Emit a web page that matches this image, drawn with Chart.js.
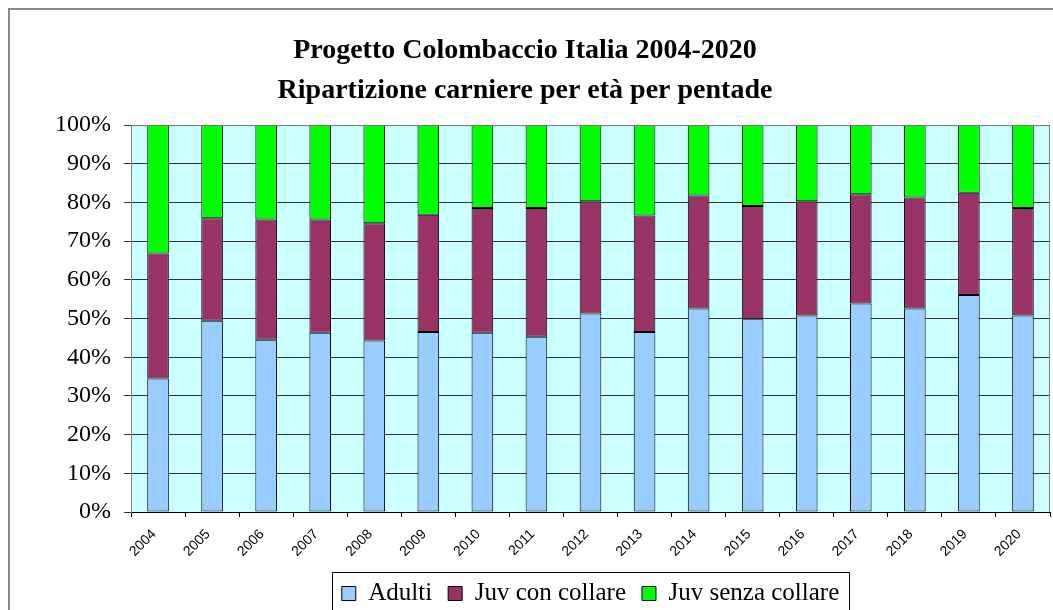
<!DOCTYPE html>
<html><head><meta charset="utf-8">
<script src="https://cdn.jsdelivr.net/npm/chart.js@4.4.1/dist/chart.umd.min.js"></script>
<style>
html,body{margin:0;padding:0;background:#fff;overflow:hidden;}
#wrap{position:relative;width:1053px;height:610px;overflow:hidden;}
#frame{position:absolute;left:8px;top:8px;width:1100px;height:700px;border-left:2px solid #8a8a8a;border-top:2px solid #8a8a8a;pointer-events:none;}
canvas{position:absolute;left:0;top:0;}
</style></head><body>
<div id="wrap"><canvas id="c" width="1053" height="610"></canvas><div id="frame"></div></div>
<script>
const years = ['2004','2005','2006','2007','2008','2009','2010','2011','2012','2013','2014','2015','2016','2017','2018','2019','2020'];
const adulti    = [34.5, 49.4, 44.5, 46.3, 44.3, 46.5, 46.3, 45.3, 51.3, 46.5, 52.6, 49.8, 50.8, 53.9, 52.6, 56.1, 50.8];
const juvCon    = [32.3, 26.5, 31.1, 29.3, 30.3, 30.3, 32.3, 33.3, 29.0, 30.1, 29.2, 29.3, 29.5, 28.2, 28.7, 26.4, 27.8];
const juvSenza  = [33.2, 24.1, 24.4, 24.4, 25.4, 23.2, 21.4, 21.4, 19.7, 23.4, 18.2, 20.9, 19.7, 17.9, 18.7, 17.5, 21.4];
const titleLines = ['Progetto Colombaccio Italia 2004-2020', 'Ripartizione carniere per età per pentade'];
const seriesNames = ['Adulti', 'Juv con collare', 'Juv senza collare'];
const seriesColors = ['#99CCFF', '#993366', '#00FF00'];

const helper = {
  id: 'helper',
  beforeDraw(chart) {
    const {ctx, chartArea: a} = chart;
    ctx.save();
    ctx.fillStyle = '#CCFFFF';
    ctx.fillRect(a.left, a.top, a.right - a.left, a.bottom - a.top);
    ctx.restore();
  },
  afterLayout(chart) {
    const lg = chart.legend;
    if (lg) { lg.left = chart.chartArea.left; lg.right = chart.chartArea.right; }
  },
  afterDraw(chart) {
    const {ctx, chartArea: a} = chart;
    ctx.save();
    ctx.strokeStyle = '#808080';
    ctx.lineWidth = 1;
    ctx.beginPath();
    ctx.moveTo(a.left + 0.5, a.bottom);
    ctx.lineTo(a.left + 0.5, a.top + 0.5);
    ctx.lineTo(a.right - 0.5, a.top + 0.5);
    ctx.lineTo(a.right - 0.5, a.bottom);
    ctx.stroke();
    const lg = chart.legend;
    if (lg && lg.legendHitBoxes && lg.legendHitBoxes.length) {
      const hb = lg.legendHitBoxes;
      const first = hb[0], last = hb[hb.length - 1];
      const x0 = Math.round(first.left - 10) + 0.5;
      const x1 = Math.round(last.left + last.width + 10) + 0.5;
      const y0 = Math.round(first.top - 9) + 0.5;
      ctx.strokeStyle = '#000';
      ctx.beginPath();
      ctx.rect(x0, y0, x1 - x0, 60);
      ctx.stroke();
    }
    ctx.restore();
  }
};

new Chart(document.getElementById('c'), {
  type: 'bar',
  data: {
    labels: years,
    datasets: [adulti, juvCon, juvSenza].map((d, i) => ({
      label: seriesNames[i],
      data: d,
      backgroundColor: seriesColors[i],
      borderColor: '#000',
      borderWidth: 1,
      borderSkipped: false,
      barPercentage: 0.4,
      categoryPercentage: 1
    }))
  },
  options: {
    responsive: false,
    devicePixelRatio: 1,
    animation: false,
    layout: { padding: { left: 0, right: 3, top: 0, bottom: -6 } },
    plugins: {
      tooltip: { enabled: false },
      title: {
        display: true,
        text: titleLines,
        color: '#000',
        font: { family: 'Liberation Serif', size: 28, weight: 'bold', lineHeight: 1.43 },
        padding: { top: 31, bottom: 14 }
      },
      legend: {
        position: 'bottom',
        labels: {
          boxWidth: 14, boxHeight: 14, padding: 16, color: '#000',
          font: { family: 'Liberation Serif', size: 25 }
        }
      }
    },
    scales: {
      x: {
        stacked: true,
        ticks: {
          color: '#000', font: { family: 'Liberation Sans', size: 14 },
          minRotation: 45, maxRotation: 45, padding: 9, labelOffset: -4, autoSkip: false
        },
        grid: { display: true, drawOnChartArea: false, offset: true, tickLength: 5, color: '#000' },
        border: { color: '#000' },
        afterFit(s) { s.height = 53; }
      },
      y: {
        stacked: true, min: 0, max: 100,
        ticks: {
          stepSize: 10, color: '#000', padding: 13,
          font: { family: 'Liberation Serif', size: 24 },
          callback: v => v + '%'
        },
        grid: { color: '#333', tickColor: '#333', tickLength: 7 },
        border: { color: '#808080' },
        afterFit(s) { s.width = 131; }
      }
    }
  },
  plugins: [helper]
});
</script>
</body></html>
